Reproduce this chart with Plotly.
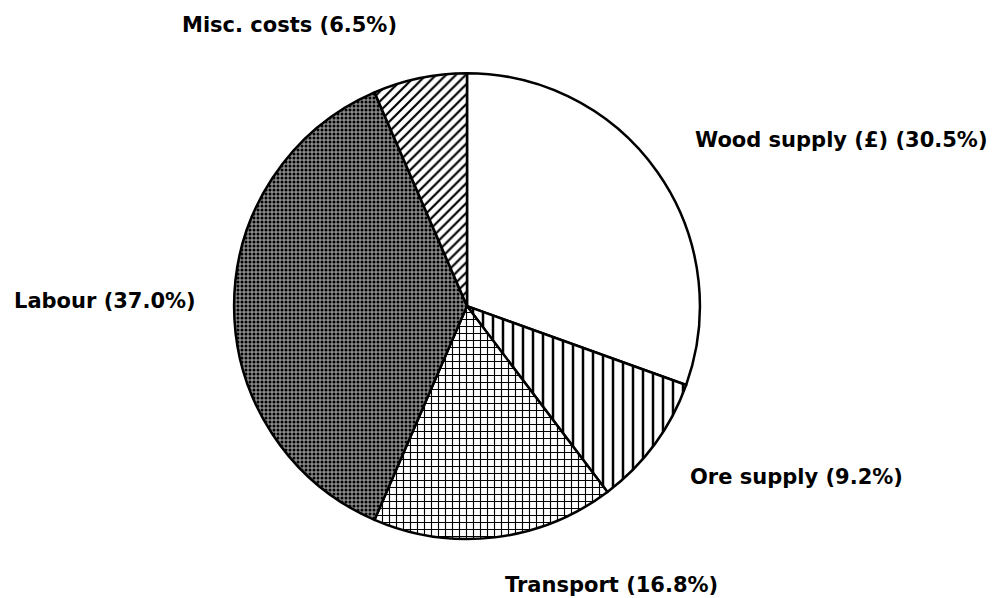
import plotly.graph_objects as go

labels = ["Wood supply (£)", "Ore supply", "Transport", "Labour", "Misc. costs"]
values = [30.5, 9.2, 16.8, 37.0, 6.5]
label_texts = ["Wood supply (£) (30.5%)", "Ore supply (9.2%)", "Transport (16.8%)",
               "Labour (37.0%)", "Misc. costs (6.5%)"]

shapes = ["", "|", "+", ".", "/"]
bgcolors = ["white", "white", "white", "#8a8a8a", "white"]
fgcolors = ["black", "black", "black", "black", "black"]
sizes = [8, 10, 7, 4, 7]
solid = [0.0, 0.25, 0.3, 0.45, 0.32]

fig = go.Figure(go.Pie(
    labels=labels, values=values, sort=False, direction="clockwise", rotation=0,
    textinfo="none", hoverinfo="label+percent", showlegend=False,
    marker=dict(
        colors=bgcolors,
        line=dict(color="black", width=2.5),
        pattern=dict(shape=shapes, fgcolor=fgcolors, bgcolor=bgcolors,
                     size=sizes, solidity=solid, fillmode="replace", fgopacity=1),
    ),
    domain=dict(x=[0.226, 0.692], y=[0.112, 0.891]),
))

# label anchor positions in figure pixels (left edge, vertical middle)
label_px = [(685, 132), (680, 469), (495, 577), (4, 293), (172, 17)]
for t, (px, py) in zip(label_texts, label_px):
    fig.add_annotation(text=t, x=px / 1000, y=1 - py / 598, xref="paper", yref="paper",
                       xanchor="left", yanchor="middle", showarrow=False,
                       font=dict(family="DejaVu Sans", size=21, color="black", weight="bold"))

fig.update_layout(width=1000, height=598, margin=dict(l=0, r=0, t=0, b=0),
                  paper_bgcolor="white", plot_bgcolor="white")
fig.write_html("out.html")
